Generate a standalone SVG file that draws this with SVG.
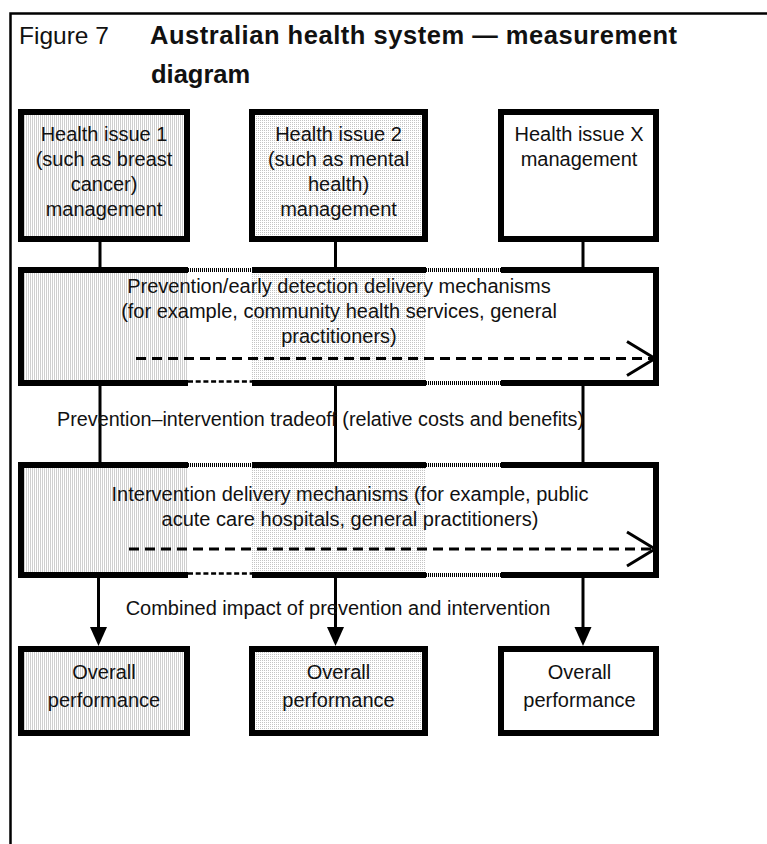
<svg xmlns="http://www.w3.org/2000/svg" width="767" height="844" viewBox="0 0 767 844">
<style>
.t{font-family:"Liberation Sans",Arial,sans-serif;font-size:20px;fill:#111;text-anchor:middle}
.ts{font-family:"Liberation Sans",Arial,sans-serif;font-size:24.5px;fill:#111}
.tb{font-family:"Liberation Sans",Arial,sans-serif;font-size:25.5px;font-weight:bold;fill:#111}
.b{stroke:#000;stroke-width:6}
.e{stroke:#000;stroke-width:6;fill:none}
.c{stroke:#000;stroke-width:3;fill:none}
.dash{stroke:#000;stroke-width:3;stroke-dasharray:10 6;fill:none}
.dot{stroke:#000;stroke-width:4;stroke-dasharray:1 1;fill:none}
.gapd{stroke:#000;stroke-width:2.5;stroke-dasharray:5 2.7;fill:none}
.frame{stroke:#000;stroke-width:2.5;fill:none}
</style>
<defs>
<pattern id="vl" width="2" height="2" patternUnits="userSpaceOnUse"><rect width="2" height="2" fill="#fff"/><rect width="1" height="2" fill="#cfcfcf"/></pattern>
<pattern id="dt" width="2" height="2" patternUnits="userSpaceOnUse"><rect width="2" height="2" fill="#fff"/><rect width="1" height="1" fill="#c4c4c4"/></pattern>
<marker id="tri" markerUnits="userSpaceOnUse" markerWidth="20" markerHeight="18" refX="13" refY="8.5" orient="auto" overflow="visible"><path d="M0,0L19,8.5L0,17Z" fill="#000"/></marker>
<marker id="chev" markerUnits="userSpaceOnUse" markerWidth="32" markerHeight="40" refX="28" refY="18" orient="auto" overflow="visible"><path d="M0,1L28,18L0,35" fill="none" stroke="#000" stroke-width="3" stroke-dasharray="none"/></marker>
</defs>

<path class="frame" d="M10.5,844V13.5H767"/>

<g id="title">
<text class="ts" x="19" y="44">Figure 7</text>
<text class="tb" x="150" y="44" textLength="527" lengthAdjust="spacing">Australian health system — measurement</text>
<text class="tb" x="151" y="83">diagram</text>
</g>

<g id="node-health1">
<rect class="b" x="21" y="112" width="166" height="127" fill="url(#vl)"/>
<text class="t" x="104" y="141">Health issue 1</text>
<text class="t" x="104" y="166">(such as breast</text>
<text class="t" x="104" y="191">cancer)</text>
<text class="t" x="104" y="216">management</text>
</g>

<g id="node-health2">
<rect class="b" x="252" y="112" width="173" height="127" fill="url(#dt)"/>
<text class="t" x="338.5" y="141">Health issue 2</text>
<text class="t" x="338.5" y="166">(such as mental</text>
<text class="t" x="338.5" y="191">health)</text>
<text class="t" x="338.5" y="216">management</text>
</g>

<g id="node-healthX">
<rect class="b" x="501" y="112" width="155" height="127" fill="#fff"/>
<text class="t" x="579" y="141">Health issue X</text>
<text class="t" x="579" y="166">management</text>
</g>

<g id="node-prevention">
<rect x="18" y="267" width="641" height="119" fill="#fff"/>
<rect x="18" y="267" width="170" height="119" fill="url(#vl)"/>
<rect x="252" y="267" width="174" height="119" fill="url(#dt)"/>
<path class="e" d="M21,267V386M656,267V386M18,270H188M252,270H426M501,270H659M18,383H188M252,383H426M501,383H659"/>
<path class="dot" d="M188,270H252M426,270H501M426,383H501"/>
<path class="gapd" d="M188,381.5H252"/>
<text class="t" x="339" y="293">Prevention/early detection delivery mechanisms</text>
<text class="t" x="339" y="318">(for example, community health services, general</text>
<text class="t" x="339" y="343">practitioners)</text>
</g>

<g id="node-intervention">
<rect x="18" y="462" width="641" height="116" fill="#fff"/>
<rect x="18" y="462" width="170" height="116" fill="url(#vl)"/>
<rect x="252" y="462" width="174" height="116" fill="url(#dt)"/>
<path class="e" d="M21,462V578M656,462V578M18,465H188M252,465H426M501,465H659M18,575H188M252,575H426M501,575H659"/>
<path class="dot" d="M188,465H252M426,465H501M426,575H501"/>
<path class="gapd" d="M188,573.5H252"/>
<text class="t" x="350" y="501">Intervention delivery mechanisms (for example, public</text>
<text class="t" x="350" y="526">acute care hospitals, general practitioners)</text>
</g>

<g id="node-overall1">
<rect class="b" x="21" y="649" width="166" height="84" fill="url(#vl)"/>
<text class="t" x="104" y="679">Overall</text>
<text class="t" x="104" y="707">performance</text>
</g>
<g id="node-overall2">
<rect class="b" x="252" y="649" width="173" height="84" fill="url(#dt)"/>
<text class="t" x="338.5" y="679">Overall</text>
<text class="t" x="338.5" y="707">performance</text>
</g>
<g id="node-overall3">
<rect class="b" x="501" y="649" width="155" height="84" fill="#fff"/>
<text class="t" x="579.5" y="679">Overall</text>
<text class="t" x="579.5" y="707">performance</text>
</g>

<g id="connectors">
<path class="c" d="M100,242V267M335.5,242V267M583,242V267"/>
<path class="c" d="M100,386V462M335.5,386V462M583,386V462"/>
<path class="c" d="M98.5,578V640" marker-end="url(#tri)"/>
<path class="c" d="M335.5,578V640" marker-end="url(#tri)"/>
<path class="c" d="M583,578V640" marker-end="url(#tri)"/>
<path class="dash" d="M136,358.5H655" marker-end="url(#chev)"/>
<path class="dash" d="M129,549H655" marker-end="url(#chev)"/>
<text class="t" x="57" y="426" style="text-anchor:start" textLength="527" lengthAdjust="spacingAndGlyphs">Prevention–intervention tradeoff (relative costs and benefits)</text>
<text class="t" x="338" y="615">Combined impact of prevention and intervention</text>
</g>
</svg>
